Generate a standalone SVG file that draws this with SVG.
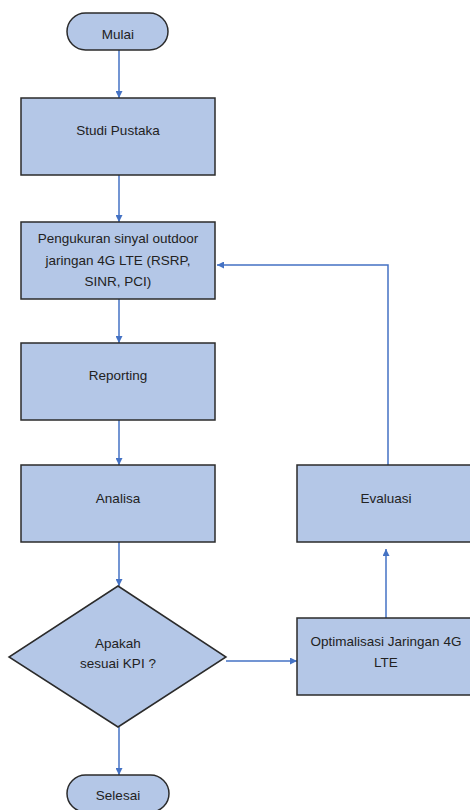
<svg xmlns="http://www.w3.org/2000/svg" width="470" height="810" viewBox="0 0 470 810">
<style>
.n{fill:#B4C7E7;stroke:#2B2B2B;stroke-width:1.5}
.t{font-family:"Liberation Sans",Arial,sans-serif;font-size:13.5px;fill:#222;text-anchor:middle}
.c{fill:none;stroke:#4472C4;stroke-width:1.5}
</style>
<defs>
<marker id="ah" viewBox="0 0 10 10" refX="10" refY="5" markerWidth="7" markerHeight="7" markerUnits="userSpaceOnUse" orient="auto">
<path d="M0,0 L10,5 L0,10 z" fill="#4472C4"/>
</marker>
</defs>
<rect width="470" height="810" fill="#fff"/>
<g id="connectors">
<path class="c" d="M119,50 V98" marker-end="url(#ah)"/>
<path class="c" d="M119,175 V222" marker-end="url(#ah)"/>
<path class="c" d="M119,299 V343" marker-end="url(#ah)"/>
<path class="c" d="M119,420 V465" marker-end="url(#ah)"/>
<path class="c" d="M119,542 V586" marker-end="url(#ah)"/>
<path class="c" d="M119,727 V775" marker-end="url(#ah)"/>
<path class="c" d="M226,661 H297" marker-end="url(#ah)"/>
<path class="c" d="M386,618 V549" marker-end="url(#ah)"/>
<path class="c" d="M388,465 V265 H217" marker-end="url(#ah)"/>
</g>
<g id="mulai">
<rect class="n" x="67" y="13" width="101" height="37" rx="18.5"/>
<text class="t" x="118" y="39">Mulai</text>
</g>
<g id="studi">
<rect class="n" x="21" y="98" width="194" height="77"/>
<text class="t" x="118" y="135">Studi Pustaka</text>
</g>
<g id="pengukuran">
<rect class="n" x="21" y="222" width="194" height="77"/>
<text class="t" x="118" y="243">Pengukuran sinyal outdoor</text>
<text class="t" x="118" y="264.5">jaringan 4G LTE (RSRP,</text>
<text class="t" x="118" y="286">SINR, PCI)</text>
</g>
<g id="reporting">
<rect class="n" x="21" y="343" width="194" height="77"/>
<text class="t" x="118" y="380">Reporting</text>
</g>
<g id="analisa">
<rect class="n" x="21" y="465" width="194" height="77"/>
<text class="t" x="118" y="503">Analisa</text>
</g>
<g id="keputusan">
<polygon class="n" points="118,586 226,657 118,727 9,657"/>
<text class="t" x="118" y="648">Apakah</text>
<text class="t" x="118" y="668">sesuai KPI ?</text>
</g>
<g id="selesai">
<rect class="n" x="67" y="775" width="102" height="37" rx="18.5"/>
<text class="t" x="118" y="800">Selesai</text>
</g>
<g id="optimalisasi">
<rect class="n" x="297" y="618" width="179" height="77"/>
<text class="t" x="386" y="646">Optimalisasi Jaringan 4G</text>
<text class="t" x="386" y="667">LTE</text>
</g>
<g id="evaluasi">
<rect class="n" x="297" y="465" width="179" height="77"/>
<text class="t" x="386" y="503">Evaluasi</text>
</g>
</svg>
